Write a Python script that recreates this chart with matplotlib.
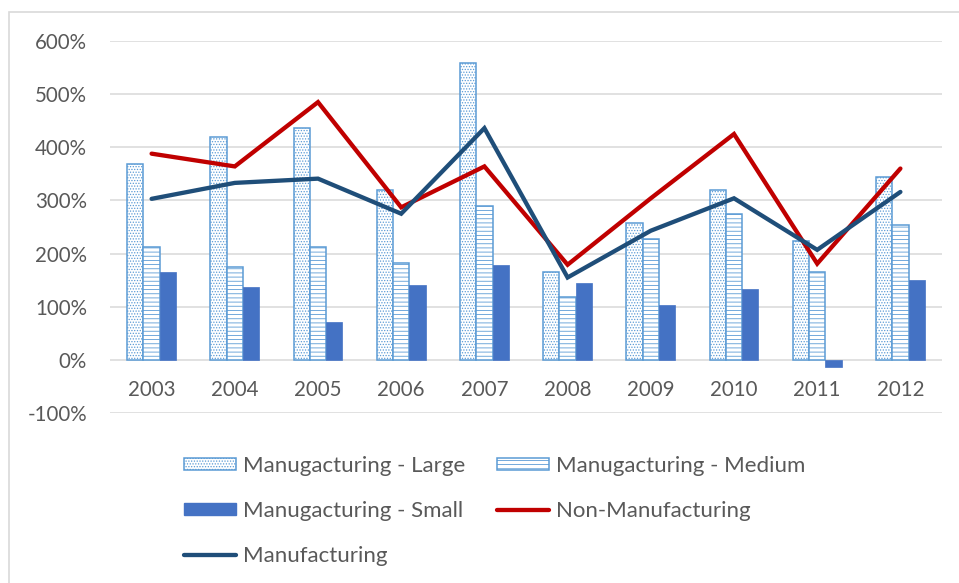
import matplotlib
matplotlib.use("Agg")
import matplotlib.pyplot as plt
import numpy as np
from matplotlib.patches import Rectangle, Patch
from matplotlib.lines import Line2D
from matplotlib.ticker import FuncFormatter

plt.rcParams['font.family'] = ['Lato', 'DejaVu Sans']
plt.rcParams['hatch.linewidth'] = 0.6

years = ['2003', '2004', '2005', '2006', '2007', '2008', '2009', '2010', '2011', '2012']
mfg_large = [3.69, 4.20, 4.37, 3.19, 5.59, 1.66, 2.57, 3.20, 2.23, 3.45]
mfg_medium = [2.12, 1.75, 2.12, 1.82, 2.89, 1.19, 2.28, 2.75, 1.66, 2.53]
mfg_small = [1.65, 1.38, 0.72, 1.41, 1.79, 1.45, 1.04, 1.33, -0.14, 1.50]
non_manufacturing = [3.88, 3.64, 4.85, 2.87, 3.64, 1.79, 3.04, 4.25, 1.81, 3.60]
manufacturing = [3.03, 3.33, 3.41, 2.75, 4.36, 1.55, 2.43, 3.04, 2.07, 3.16]
y_ticks = [-1, 0, 1, 2, 3, 4, 5, 6]

W, H = 959, 583
fig = plt.figure(figsize=(W / 100, H / 100), dpi=100)
fig.patch.set_facecolor('white')

# chart-area frame
fig.patches.append(Rectangle((8.5 / W, -0.1), 1.2, (H - 12) / H + 0.1,
                             transform=fig.transFigure, fill=False,
                             edgecolor='#D9D9D9', linewidth=1.2))

ax = fig.add_axes([110 / W, 170 / H, (942 - 110) / W, (413 - 41) / H])
ax.set_facecolor('white')

x = np.arange(len(years))
bw = 0.195
text_col = '#595959'
light_blue = '#5B9BD5'

ax.bar(x - bw, mfg_large, bw, facecolor='white', edgecolor=light_blue,
       hatch='......', linewidth=1.1, zorder=2, label='Manugacturing - Large')
ax.bar(x, mfg_medium, bw, facecolor='white', edgecolor=light_blue,
       hatch='----', linewidth=1.1, zorder=2, label='Manugacturing - Medium')
ax.bar(x + bw, mfg_small, bw, color='#4472C4', edgecolor='#4472C4',
       linewidth=0.5, zorder=2, label='Manugacturing - Small')
ax.plot(x, non_manufacturing, color='#C00000', linewidth=3.1,
        solid_capstyle='round', solid_joinstyle='miter', zorder=3,
        label='Non-Manufacturing')
ax.plot(x, manufacturing, color='#1F4E79', linewidth=3.1,
        solid_capstyle='round', solid_joinstyle='miter', zorder=4,
        label='Manufacturing')

ax.set_xlim(-0.5, len(years) - 0.5)
ax.set_ylim(-1, 6)
ax.set_yticks(y_ticks)
ax.yaxis.set_major_formatter(FuncFormatter(lambda v, p: f"{v * 100:.0f}%"))
ax.set_xticks(x)
ax.set_xticklabels(years)
# category labels sit just under the 0% line
ax.spines['bottom'].set_position(('data', 0))
ax.tick_params(axis='both', length=0, labelsize=14.8, labelcolor=text_col)
ax.tick_params(axis='y', pad=16.5)
ax.tick_params(axis='x', pad=14.5)
ax.grid(axis='y', color='#D9D9D9', linewidth=1.1, zorder=0)
ax.set_axisbelow(True)
for s in ax.spines.values():
    s.set_visible(False)

handles = [
    Patch(facecolor='white', edgecolor=light_blue, hatch='......', linewidth=1.1),
    Patch(facecolor='#4472C4', edgecolor='#4472C4'),
    Line2D([], [], color='#1F4E79', linewidth=3.1, solid_capstyle='round'),
    Patch(facecolor='white', edgecolor=light_blue, hatch='----', linewidth=1.1),
    Line2D([], [], color='#C00000', linewidth=3.1, solid_capstyle='round'),
]
labels = ['Manugacturing - Large', 'Manugacturing - Small', 'Manufacturing',
          'Manugacturing - Medium', 'Non-Manufacturing']
fig.legend(handles, labels, ncol=2, frameon=False,
           loc='upper left', bbox_to_anchor=(184 / W, (H - 456) / H),
           fontsize=16, labelcolor=text_col, handlelength=2.34,
           handleheight=0.5, handletextpad=0.3, columnspacing=1.45,
           labelspacing=1.12, borderaxespad=0, borderpad=0)

fig.savefig('out.png', dpi=100, facecolor='white')
